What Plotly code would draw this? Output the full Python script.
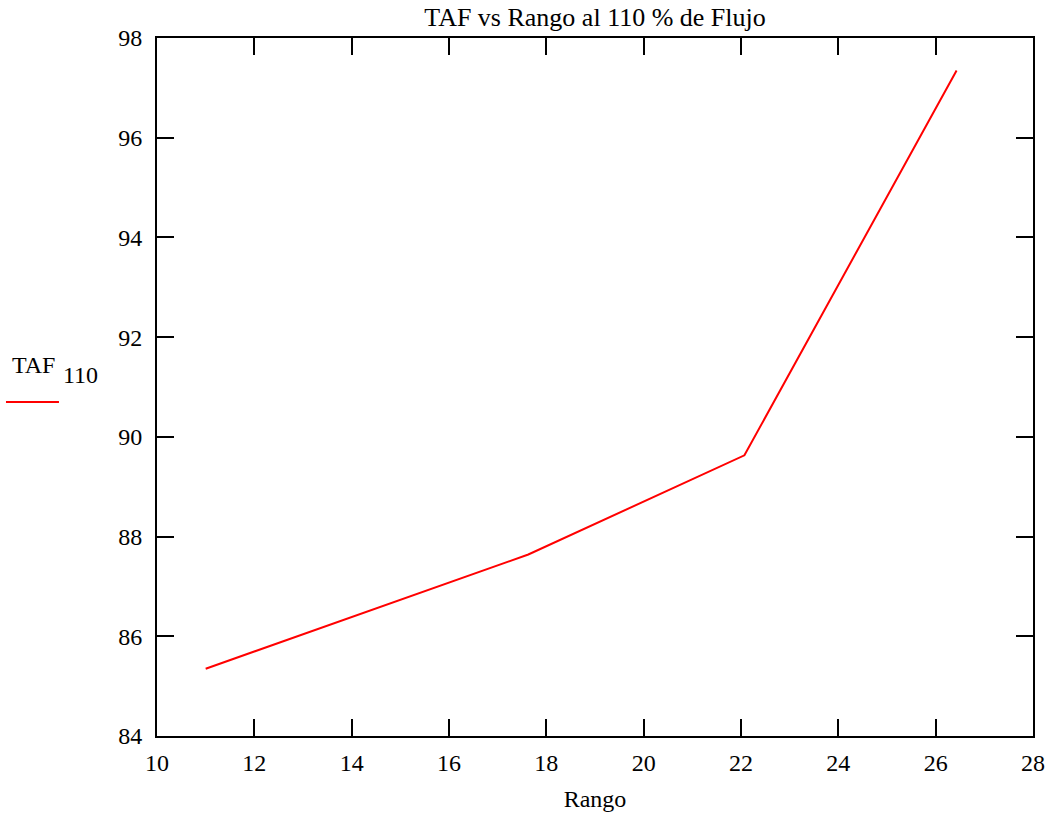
import plotly.graph_objects as go

rango = [11.0, 17.63, 22.07, 26.43]
taf_110 = [85.35, 87.64, 89.63, 97.35]

x_ticks = [10, 12, 14, 16, 18, 20, 22, 24, 26, 28]
y_ticks = [84, 86, 88, 90, 92, 94, 96, 98]

FONT = "Liberation Serif, Times New Roman, serif"

fig = go.Figure()
fig.add_trace(go.Scatter(x=rango, y=taf_110, mode="lines",
                         line=dict(color="#ff0000", width=2), showlegend=False))

axis_common = dict(showgrid=False, zeroline=False, showline=True, linecolor="black",
                   linewidth=2, mirror="allticks", ticks="inside", ticklen=17,
                   tickwidth=2, tickcolor="black", automargin=False,
                   tickfont=dict(family=FONT, size=24, color="black"))

fig.update_xaxes(range=[10, 28], tickvals=x_ticks, ticklabelstandoff=4,
                 title=dict(text="Rango", font=dict(family=FONT, size=24, color="black"), standoff=15),
                 **axis_common)
fig.update_yaxes(range=[84, 98], tickvals=y_ticks, ticklabelstandoff=8, **axis_common)

fig.update_layout(
    width=1056, height=818,
    margin=dict(l=157, r=23, t=38, b=82),
    paper_bgcolor="white", plot_bgcolor="white",
    title=dict(text="TAF vs Rango al 110 % de Flujo", x=0.5635, xanchor="center",
               y=0.979, yanchor="middle",
               font=dict(family=FONT, size=26, color="black")),
    font=dict(family=FONT, color="black"),
)

# legend-like label on the left
fig.add_annotation(xref="paper", yref="paper", x=-0.168, y=0.532, xanchor="left", yanchor="middle",
                   text="TAF", showarrow=False,
                   font=dict(family=FONT, size=24, color="black"))
fig.add_annotation(xref="paper", yref="paper", x=-0.110, y=0.517, xanchor="left", yanchor="middle",
                   text="110", showarrow=False,
                   font=dict(family=FONT, size=24, color="black"))
fig.add_shape(type="line", xref="paper", yref="paper", x0=-0.1724, x1=-0.1119, y0=0.4785,
              y1=0.4785, line=dict(color="#ff0000", width=2))

fig.write_html("out.html")
